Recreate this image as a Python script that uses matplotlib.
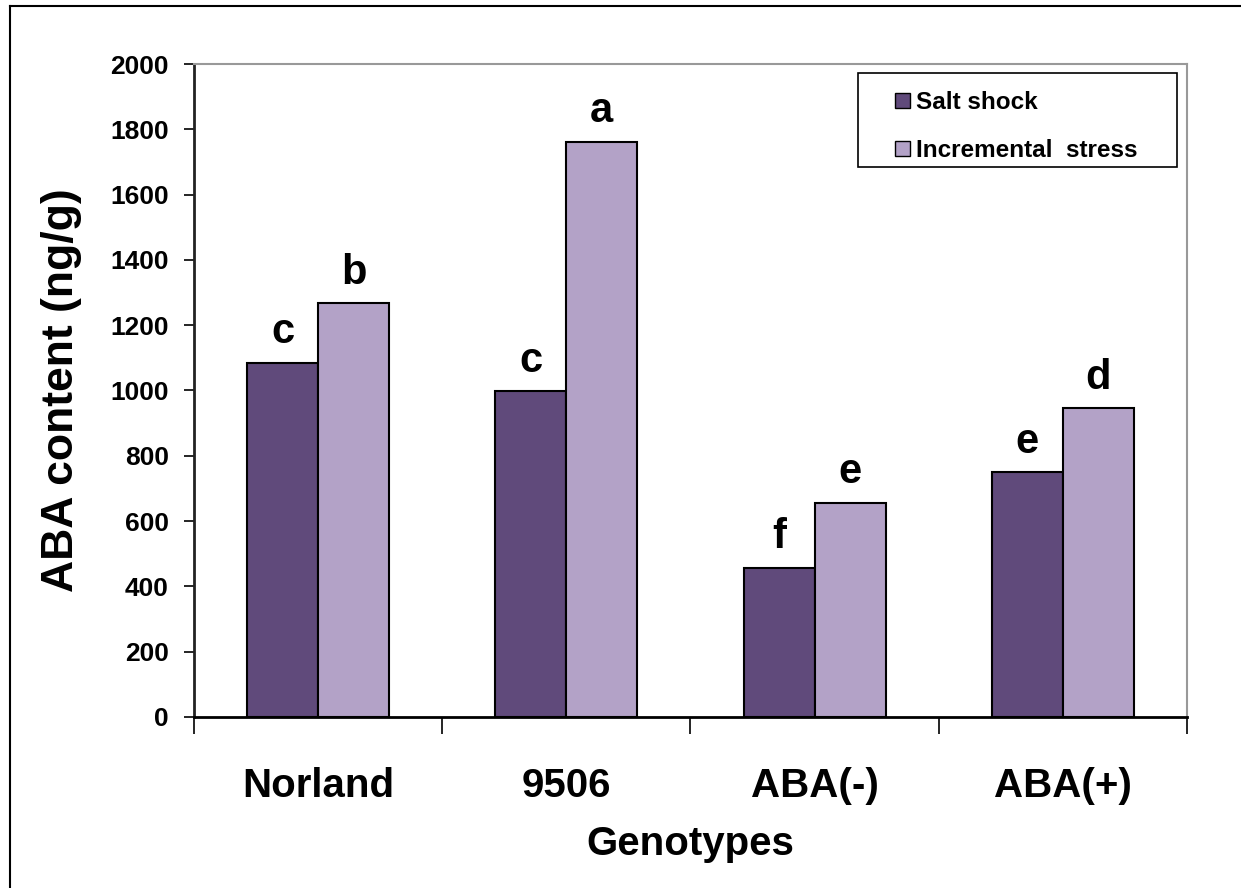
import numpy as np
import matplotlib
matplotlib.use("Agg")
import matplotlib.pyplot as plt
from matplotlib.lines import Line2D
from matplotlib.patches import Rectangle

plt.rcParams['font.family'] = ['Liberation Sans', 'DejaVu Sans']
plt.rcParams['font.weight'] = 'bold'

genotypes = ['Norland', '9506', 'ABA(-)', 'ABA(+)']
salt_shock = [1085, 997, 457, 750]
incremental = [1268, 1762, 656, 945]
salt_letters = ['c', 'c', 'f', 'e']
incr_letters = ['b', 'a', 'e', 'd']

dark = '#604A7B'
light = '#B3A2C7'

fig = plt.figure(figsize=(12.41, 8.88), dpi=100)
ax = fig.add_axes([0.1563, 0.1926, 0.8002, 0.7353])

x = np.arange(len(genotypes))
w = 0.286
b1 = ax.bar(x - w / 2, salt_shock, w, color=dark, edgecolor='black', linewidth=1.5,
            label='Salt shock', zorder=3)
b2 = ax.bar(x + w / 2, incremental, w, color=light, edgecolor='black', linewidth=1.5,
            label='Incremental  stress', zorder=3)

# significance letters above each bar
for bars, letters in ((b1, salt_letters), (b2, incr_letters)):
    for rect, txt in zip(bars, letters):
        ax.annotate(txt, (rect.get_x() + rect.get_width() / 2, rect.get_height()),
                    xytext=(0, 14), textcoords='offset points',
                    ha='center', va='baseline', fontsize=30, fontweight='bold')

ax.set_xlim(-0.5, 3.5)
ax.set_ylim(0, 2000)
ax.set_yticks(np.arange(0, 2001, 200))
ax.tick_params(axis='y', direction='out', length=7, width=1.2, labelsize=19, pad=11)

# category ticks sit on the group boundaries, names are centred below
ax.set_xticks(np.arange(-0.5, 4, 1))
ax.set_xticklabels([])
ax.set_xticks(x, minor=True)
ax.set_xticklabels(genotypes, minor=True, fontsize=29, fontweight='bold')
ax.tick_params(axis='x', which='major', direction='out', length=12, width=1.2)
ax.tick_params(axis='x', which='minor', length=0, pad=36)

for lab in ax.get_yticklabels():
    lab.set_fontweight('bold')

ax.spines['left'].set_color('#222222')
ax.spines['left'].set_linewidth(2)
ax.spines['bottom'].set_color('black')
ax.spines['bottom'].set_linewidth(2)
ax.spines['top'].set_color('#999999')
ax.spines['top'].set_linewidth(1.5)
ax.spines['right'].set_color('#999999')
ax.spines['right'].set_linewidth(1.5)

ax.set_ylabel('ABA content (ng/g)', fontsize=32, fontweight='bold')
ax.yaxis.set_label_coords(-0.113, 0.5)
ax.set_xlabel('Genotypes', fontsize=29, fontweight='bold')
ax.xaxis.set_label_coords(0.5, -0.165)

# legend box is drawn separately so it can be wider than the entries
ax.add_patch(Rectangle((0.6687, 0.842), 0.3213, 0.144, transform=ax.transAxes,
                       fill=True, facecolor='white', edgecolor='black',
                       linewidth=1.2, zorder=4))
leg = ax.legend(loc='upper left', bbox_to_anchor=(0.706, 0.959), borderaxespad=0,
                fontsize=17.5, frameon=False,
                handlelength=0.6, handleheight=0.6, handletextpad=0.25,
                labelspacing=1.05, borderpad=0)
leg.set_zorder(5)
for t in leg.get_texts():
    t.set_fontweight('bold')
for h in leg.legend_handles:
    h.set_linewidth(1.0)

# outer frame lines along the left and top edges
fig.add_artist(Line2D([0.008, 0.008], [0, 0.993], color='black', lw=1.5,
                      transform=fig.transFigure))
fig.add_artist(Line2D([0.008, 1], [0.993, 0.993], color='black', lw=1.5,
                      transform=fig.transFigure))

fig.savefig('out.png', dpi=100)
